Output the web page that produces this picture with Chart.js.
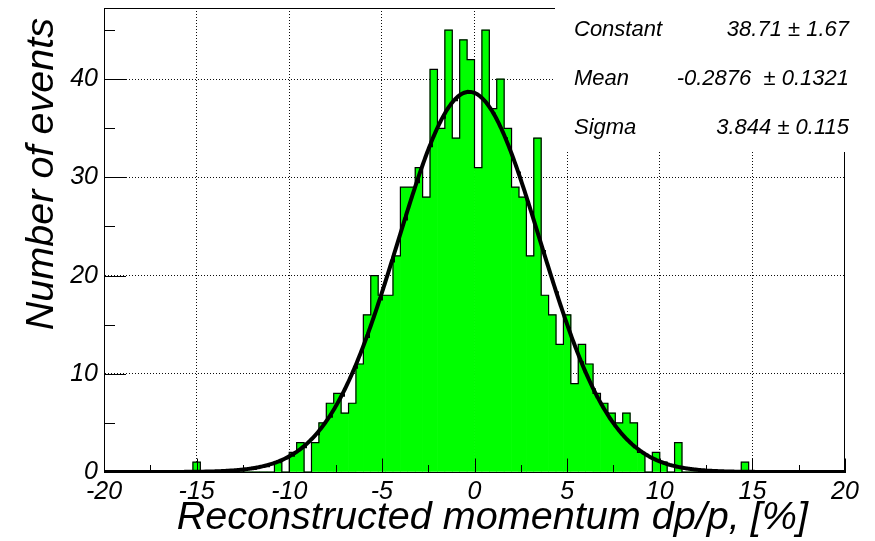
<!DOCTYPE html>
<html>
<head>
<meta charset="utf-8">
<script src="https://cdn.jsdelivr.net/npm/chart.js@4.4.1/dist/chart.umd.min.js"></script>
<style>
  html, body { margin: 0; padding: 0; background: #ffffff; }
  canvas { display: block; }
</style>
</head>
<body>
<canvas id="c" width="875" height="541"></canvas>
<script>
// ---- Histogram: 100 bins of width 0.4 covering [-20, 20) ----
const binLow = -20;
const binWidth = 0.4;
const binCounts = [
  0, 0, 0, 0, 0, 0, 0, 0, 0, 0,
  0, 0, 1, 0, 0, 0, 0, 0, 0, 0,
  0, 0, 0, 1, 0, 2, 3, 0, 3, 5,
  7, 8, 6, 7, 11, 16, 20, 18, 18, 22,
  29, 29, 31, 28, 41, 35, 45, 34, 44, 42,
  31, 45, 37, 40, 35, 29, 28, 22, 34, 18,
  16, 13, 16, 9, 13, 11, 8, 7, 6, 5,
  6, 5, 2, 0, 2, 1, 0, 3, 0, 0,
  0, 0, 0, 0, 0, 0, 1, 0, 0, 0,
  0, 0, 0, 0, 0, 0, 0, 0, 0, 0
];

// ---- Gaussian fit result ----
const fitNames = ['Constant', 'Mean', 'Sigma'];
const fitValues = [38.71, -0.2876, 3.844];
const fitLabels = ['38.71 \u00b1 1.67', '-0.2876  \u00b1 0.1321', '3.844 \u00b1 0.115'];

// ---- Axes ----
const xTickValues = [-20, -15, -10, -5, 0, 5, 10, 15, 20];
const xTickLabels = ['-20', '-15', '-10', '-5', '0', '5', '10', '15', '20'];
const yTickValues = [0, 10, 20, 30, 40];
const yTickLabels = ['0', '10', '20', '30', '40'];
const xRange = [-20, 20];
const yRange = [0, 47.25];
const xTitle = 'Reconstructed momentum dp/p, [%]';
const yTitle = 'Number of events';

const FONT = '"Liberation Sans", Arial, Helvetica, sans-serif';

// bars at bin centres
const barPoints = binCounts.map((c, i) => ({ x: binLow + (i + 0.5) * binWidth, y: c }));
// step contour through the bin edges
const stepPoints = binCounts.map((c, i) => ({ x: binLow + i * binWidth, y: c }));
stepPoints.push({ x: binLow + binCounts.length * binWidth, y: binCounts[binCounts.length - 1] });

// fitted gaussian evaluated along the axis
function fitGauss(v) {
  const [c, m, s] = fitValues;
  const t = (v - m) / s;
  return c * Math.exp(-0.5 * t * t);
}
const fitPoints = [];
for (let k = 0; k <= 800; k++) {
  const v = xRange[0] + k * (xRange[1] - xRange[0]) / 800;
  fitPoints.push({ x: v, y: fitGauss(v) });
}

function labelFor(values, labels, v) {
  const idx = values.findIndex(t => Math.abs(t - v) < 1e-6);
  return idx >= 0 ? labels[idx] : '';
}

const frameAndStats = {
  id: 'frameAndStats',
  afterDatasetsDraw(chart) {
    const { ctx, chartArea: a, scales: { x, y } } = chart;
    ctx.save();
    ctx.strokeStyle = '#000000';
    ctx.lineWidth = 1;
    ctx.beginPath();
    // x-axis ticks pointing into the frame (major every 5, minor every 2.5)
    for (let v = xRange[0]; v <= xRange[1] + 1e-9; v += 2.5) {
      const px = Math.round(x.getPixelForValue(v)) + 0.5;
      const major = Math.abs(v / 5 - Math.round(v / 5)) < 1e-6;
      const len = major ? 13.5 : 7;
      ctx.moveTo(px, a.bottom);
      ctx.lineTo(px, a.bottom - len);
    }
    // y-axis ticks (major every 10, minor every 5)
    for (let v = yRange[0]; v <= yRange[1] + 1e-9; v += 5) {
      const py = Math.round(y.getPixelForValue(v)) + 0.5;
      const major = Math.abs(v / 10 - Math.round(v / 10)) < 1e-6;
      const len = major ? 22 : 11;
      ctx.moveTo(a.left, py);
      ctx.lineTo(a.left + len, py);
    }
    // frame top and right edges
    ctx.moveTo(a.left, a.top + 0.5);
    ctx.lineTo(a.right, a.top + 0.5);
    ctx.moveTo(a.right - 0.5, a.top);
    ctx.lineTo(a.right - 0.5, a.bottom);
    ctx.stroke();
    ctx.restore();
  },
  afterDraw(chart) {
    const { ctx } = chart;
    ctx.save();
    // fit parameter box
    ctx.fillStyle = '#ffffff';
    ctx.fillRect(555, 0, 320, 152);
    ctx.fillStyle = '#000000';
    ctx.font = 'italic 22px ' + FONT;
    ctx.textBaseline = 'alphabetic';
    const rowsY = [36, 85, 134];
    fitNames.forEach((name, i) => {
      ctx.textAlign = 'left';
      ctx.fillText(name, 574, rowsY[i]);
      ctx.textAlign = 'right';
      ctx.fillText(fitLabels[i], 849, rowsY[i]);
    });
    // axis titles
    ctx.font = 'italic 39.6px ' + FONT;
    ctx.textAlign = 'right';
    ctx.fillText(xTitle, 808, 529);
    ctx.translate(53, 18);
    ctx.rotate(-Math.PI / 2);
    ctx.fillText(yTitle, 0, 0);
    ctx.restore();
  }
};

const gridColor = (ctx, ends) =>
  ends.includes(ctx.tick && ctx.tick.value) ? 'rgba(0,0,0,0)' : 'rgba(0,0,0,0.95)';

new Chart(document.getElementById('c'), {
  type: 'bar',
  data: {
    datasets: [
      {
        type: 'line',
        label: 'fit',
        data: fitPoints,
        borderColor: '#000000',
        borderWidth: 4,
        pointRadius: 0,
        tension: 0,
        fill: false,
        order: 1
      },
      {
        type: 'line',
        label: 'contour',
        data: stepPoints,
        stepped: 'before',
        borderColor: '#000000',
        borderWidth: 1.2,
        pointRadius: 0,
        fill: false,
        order: 2
      },
      {
        type: 'bar',
        label: 'events',
        data: barPoints,
        backgroundColor: '#00ff00',
        borderWidth: 0,
        barPercentage: 1,
        categoryPercentage: 1,
        order: 3
      }
    ]
  },
  options: {
    responsive: false,
    animation: false,
    events: [],
    layout: { padding: { top: 8, right: 30, left: 0, bottom: 0 } },
    plugins: { legend: { display: false }, tooltip: { enabled: false } },
    scales: {
      x: {
        type: 'linear',
        min: xRange[0],
        max: xRange[1],
        offset: false,
        grid: {
          offset: false,
          drawTicks: false,
          lineWidth: 1,
          color: (ctx) => gridColor(ctx, [xRange[0], xRange[1]])
        },
        border: { display: true, color: '#000000', width: 1, dash: [1, 2] },
        ticks: {
          stepSize: 5,
          autoSkip: false,
          maxRotation: 0,
          includeBounds: false,
          padding: 5,
          color: '#000000',
          font: { family: FONT, size: 25, style: 'italic' },
          callback: (v) => labelFor(xTickValues, xTickLabels, v)
        },
        afterFit(scale) {
          scale.height = 69;
          scale.paddingLeft = 0;
          scale.paddingRight = 0;
        }
      },
      y: {
        type: 'linear',
        min: yRange[0],
        max: yRange[1],
        grid: {
          drawTicks: false,
          lineWidth: 1,
          color: (ctx) => gridColor(ctx, [yRange[0]])
        },
        border: { display: true, color: '#000000', width: 1, dash: [1, 2] },
        ticks: {
          stepSize: 10,
          includeBounds: false,
          padding: 6,
          color: '#000000',
          font: { family: FONT, size: 25, style: 'italic' },
          callback: (v) => labelFor(yTickValues, yTickLabels, v)
        },
        afterFit(scale) {
          scale.width = 104;
          scale.paddingTop = 0;
          scale.paddingBottom = 0;
        }
      }
    }
  },
  plugins: [frameAndStats]
});
</script>
</body>
</html>
